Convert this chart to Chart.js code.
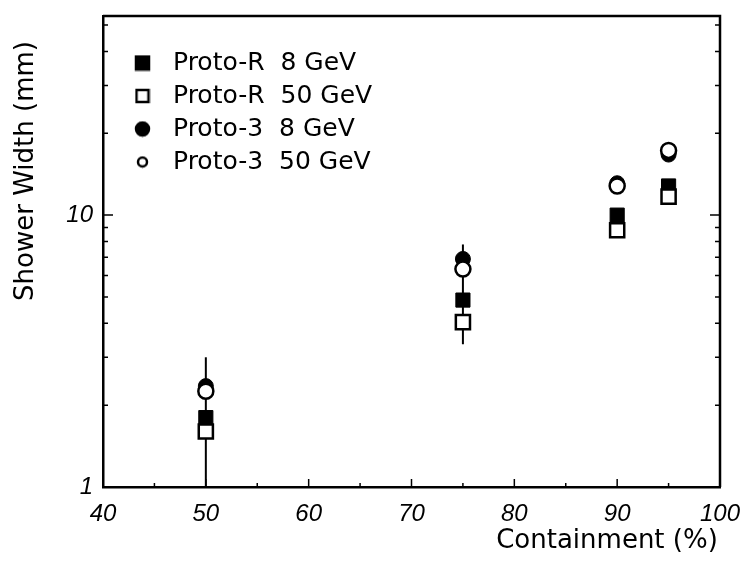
<!DOCTYPE html>
<html>
<head>
<meta charset="utf-8">
<title>Shower Width vs Containment</title>
<script src="https://cdn.jsdelivr.net/npm/chart.js@4.4.1/dist/chart.umd.min.js"></script>
<style>
  body { margin: 0; background: #fff; }
  canvas { display: block; }
</style>
</head>
<body>
<canvas id="showerChart" width="746" height="565"></canvas>
<script>
// containment (%) at which the width was measured
const containment = [50, 75, 90, 95];

// shower width (mm) for each prototype / beam energy
const protoR8 = [1.80, 4.87, 10.0, 12.8];
const protoR50 = [1.60, 4.04, 8.8, 11.7];
const proto3_8 = [2.35, 6.9, 13.1, 16.7];
const proto3_50 = [2.25, 6.33, 12.8, 17.3];

// vertical error lines
const errX = [50, 75];
const errLow = [1.0, 3.35];
const errHigh = [3.0, 7.8];

// ticks
const xTicks = [40, 45, 50, 55, 60, 65, 70, 75, 80, 85, 90, 95, 100];
const xLabels = [40, 50, 60, 70, 80, 90, 100];
const yTicks = [1, 2, 3, 4, 5, 6, 7, 8, 9, 10, 20, 30, 40, 50];
const yLabels = [1, 10];

const textFont = "'DejaVu Sans', sans-serif";
const tickFont = { family: "'Liberation Sans', Arial, sans-serif", size: 24, style: "italic" };

Chart.defaults.color = "#000";

function points(values){
  return containment.map((x, i) => ({ x: x, y: values[i] }));
}

//small canvas used as legend symbol
function legendMark(shape, filled, size){
  const c = document.createElement("canvas");
  c.width = size + 4;
  c.height = size + 4;
  const g = c.getContext("2d");
  g.lineWidth = 2.5;
  g.strokeStyle = "#000";
  g.fillStyle = filled ? "#000" : "#fff";
  g.beginPath();
  if (shape === "rect") {
    g.rect(2, 2, size, size);
  } else {
    g.arc(c.width / 2, c.height / 2, size / 2, 0, Math.PI * 2);
  }
  g.fill();
  g.stroke();
  return c;
}

const legendMarks = [
  legendMark("rect", true, 13),
  legendMark("rect", false, 12),
  legendMark("circle", true, 13),
  legendMark("circle", false, 9)
];

//error lines under the markers
const errorLines = {
  id: "errorLines",
  beforeDatasetsDraw(chart){
    const { ctx, scales: { x, y } } = chart;
    ctx.save();
    ctx.strokeStyle = "#000";
    ctx.lineWidth = 2;
    errX.forEach((v, i) => {
      const px = x.getPixelForValue(v);
      ctx.beginPath();
      ctx.moveTo(px, y.getPixelForValue(errLow[i]));
      ctx.lineTo(px, y.getPixelForValue(errHigh[i]));
      ctx.stroke();
    });
    ctx.restore();
  }
};

//closed frame with ticks pointing inwards, plus axis titles
const frameAndTitles = {
  id: "frameAndTitles",
  afterDraw(chart){
    const { ctx, chartArea: a, scales: { x, y } } = chart;
    ctx.save();
    ctx.strokeStyle = "#000";
    ctx.lineWidth = 2.5;
    ctx.beginPath();
    ctx.moveTo(a.left, a.top);
    ctx.lineTo(a.right, a.top);
    ctx.lineTo(a.right, a.bottom);
    ctx.stroke();

    ctx.lineWidth = 1.5;
    yTicks.forEach(v => {
      const py = y.getPixelForValue(v);
      const len = yLabels.includes(v) ? 10 : 5;
      ctx.beginPath();
      ctx.moveTo(a.left, py);
      ctx.lineTo(a.left + len, py);
      ctx.moveTo(a.right, py);
      ctx.lineTo(a.right - len, py);
      ctx.stroke();
    });
    xTicks.forEach(v => {
      const px = x.getPixelForValue(v);
      const len = xLabels.includes(v) ? 8 : 4;
      ctx.beginPath();
      ctx.moveTo(px, a.bottom);
      ctx.lineTo(px, a.bottom - len);
      ctx.stroke();
    });

    ctx.fillStyle = "#000";
    ctx.font = "26px " + textFont;
    ctx.textAlign = "center";
    ctx.textBaseline = "alphabetic";
    ctx.fillText("Containment (%)", 607, 548);

    ctx.translate(33, 171);
    ctx.rotate(-Math.PI / 2);
    ctx.fillText("Shower Width (mm)", 0, 0);
    ctx.restore();
  }
};

//move the legend box to the upper left inside the plot
const legendInside = {
  id: "legendInside",
  afterLayout(chart){
    const lg = chart.legend;
    lg.left = chart.chartArea.left + 26;
    lg.top = chart.chartArea.top + 26.5;
  }
};

const ctx = document.getElementById("showerChart").getContext("2d");

new Chart(ctx, {
  type: "scatter",
  data: {
    datasets: [
      {
        label: "\u2002Proto-R  8 GeV",
        data: points(protoR8),
        pointStyle: "rect",
        pointRadius: 10,
        pointBackgroundColor: "#000",
        pointBorderColor: "#000",
        pointBorderWidth: 1,
        order: 1
      },
      {
        label: "\u2002Proto-R  50 GeV",
        data: points(protoR50),
        pointStyle: "rect",
        pointRadius: 10,
        pointBackgroundColor: "#fff",
        pointBorderColor: "#000",
        pointBorderWidth: 2.5,
        order: 0
      },
      {
        label: "\u2002Proto-3  8 GeV",
        data: points(proto3_8),
        pointStyle: "circle",
        pointRadius: 7.5,
        pointBackgroundColor: "#000",
        pointBorderColor: "#000",
        pointBorderWidth: 1,
        order: 1
      },
      {
        label: "\u2002Proto-3  50 GeV",
        data: points(proto3_50),
        pointStyle: "circle",
        pointRadius: 7.5,
        pointBackgroundColor: "#fff",
        pointBorderColor: "#000",
        pointBorderWidth: 2.5,
        order: 0
      }
    ]
  },
  options: {
    responsive: false,
    animation: false,
    layout: { padding: { top: 16, right: 26, left: 0, bottom: 0 } },
    scales: {
      x: {
        type: "linear",
        min: 40,
        max: 100,
        afterFit: s => {
          s.height = 78;
          s.paddingLeft = 0;
          s.paddingRight = 0;
        },
        afterBuildTicks: axis => { axis.ticks = xTicks.map(v => ({ value: v })); },
        grid: { display: true, drawOnChartArea: false, drawTicks: false },
        border: { display: true, color: "#000", width: 2.5 },
        ticks: {
          autoSkip: false,
          maxRotation: 0,
          padding: 13,
          color: "#000",
          font: tickFont,
          callback: v => xLabels.includes(v) ? String(v) : ""
        }
      },
      y: {
        type: "logarithmic",
        min: 1,
        max: 54,
        afterFit: s => {
          s.width = 103;
          s.paddingTop = 0;
          s.paddingBottom = 0;
        },
        afterBuildTicks: axis => { axis.ticks = yTicks.map(v => ({ value: v })); },
        grid: { display: true, drawOnChartArea: false, drawTicks: false },
        border: { display: true, color: "#000", width: 2.5 },
        ticks: {
          autoSkip: false,
          padding: 10,
          color: "#000",
          font: tickFont,
          callback: v => yLabels.includes(v) ? String(v) : ""
        }
      }
    },
    plugins: {
      legend: {
        position: "chartArea",
        align: "start",
        labels: {
          usePointStyle: true,
          boxWidth: 11,
          boxHeight: 11,
          padding: 8,
          color: "#000",
          font: { family: textFont, size: 25 },
          sort: (a, b) => a.datasetIndex - b.datasetIndex,
          generateLabels: chart => {
            const items = Chart.defaults.plugins.legend.labels.generateLabels(chart);
            items.forEach(item => { item.pointStyle = legendMarks[item.datasetIndex]; });
            return items;
          }
        }
      },
      tooltip: { enabled: false }
    }
  },
  plugins: [errorLines, frameAndTitles, legendInside]
});
</script>
</body>
</html>
